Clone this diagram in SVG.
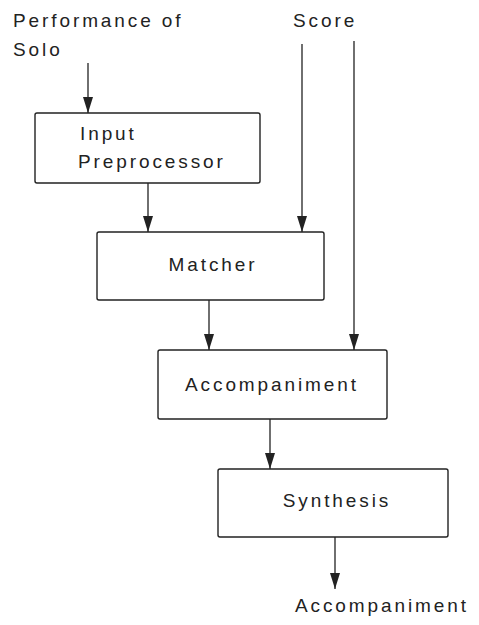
<svg xmlns="http://www.w3.org/2000/svg" width="479" height="625" viewBox="0 0 479 625">
<defs>
<marker id="ah" markerWidth="16" markerHeight="10" refX="16" refY="5" orient="auto" markerUnits="userSpaceOnUse" viewBox="0 0 16 10">
<path d="M0,0 L16,5 L0,10 Z" fill="#222"/>
</marker>
<style>
.box{fill:#fff;stroke:#222;stroke-width:1.4}
.t{font-family:"Liberation Sans",Arial,sans-serif;font-size:19px;fill:#222;letter-spacing:2.9px}
.c{stroke:#222;stroke-width:1.3;fill:none;marker-end:url(#ah)}
</style>
</defs>
<rect width="479" height="625" fill="#fff"/>
<g id="labels">
<text class="t" x="13" y="27">Performance of</text>
<text class="t" x="13" y="56">Solo</text>
<text class="t" x="293" y="27">Score</text>
<text class="t" x="295" y="612">Accompaniment</text>
</g>
<g id="connectors">
<line class="c" x1="88" y1="63" x2="88" y2="113"/>
<line class="c" x1="148" y1="183" x2="148" y2="232"/>
<line class="c" x1="302" y1="44" x2="302" y2="232"/>
<line class="c" x1="354" y1="41" x2="354" y2="350"/>
<line class="c" x1="209" y1="300" x2="209" y2="350"/>
<line class="c" x1="270" y1="419" x2="270" y2="469"/>
<line class="c" x1="335" y1="537" x2="335" y2="589"/>
</g>
<g id="input-preprocessor">
<rect class="box" x="35" y="113" width="225" height="70" rx="2"/>
<text class="t" x="80" y="140">Input</text>
<text class="t" x="78" y="168">Preprocessor</text>
</g>
<g id="matcher">
<rect class="box" x="97" y="232" width="227" height="68" rx="2"/>
<text class="t" x="213" y="271" text-anchor="middle">Matcher</text>
</g>
<g id="accompaniment">
<rect class="box" x="158" y="350" width="229" height="69" rx="2"/>
<text class="t" x="272" y="391" text-anchor="middle">Accompaniment</text>
</g>
<g id="synthesis">
<rect class="box" x="218" y="469" width="230" height="68" rx="2"/>
<text class="t" x="337" y="507" text-anchor="middle">Synthesis</text>
</g>
</svg>
